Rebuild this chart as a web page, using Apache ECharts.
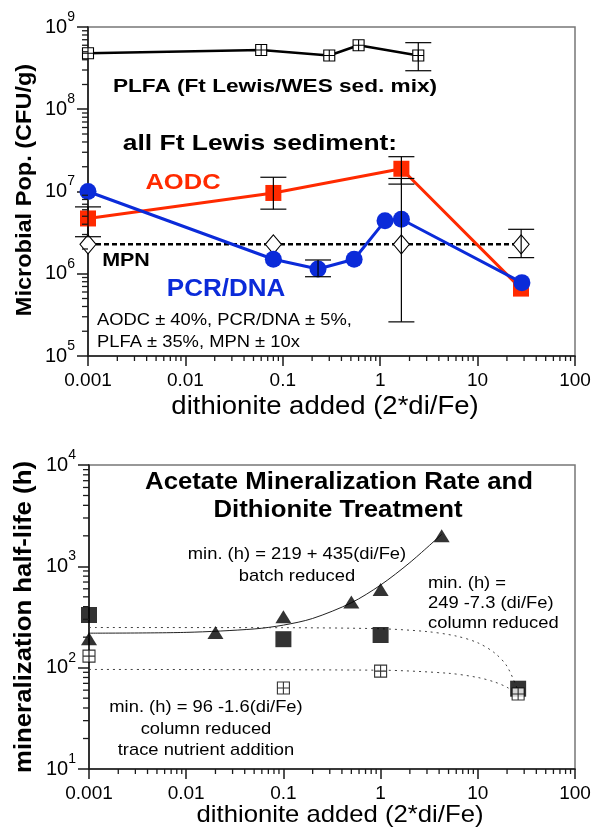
<!DOCTYPE html>
<html>
<head>
<meta charset="utf-8">
<script src="https://cdn.jsdelivr.net/npm/echarts@6/dist/echarts.min.js"></script>
<style>
  html, body { margin: 0; padding: 0; background: #fff; }
  #chart { width: 596px; height: 831px; }
</style>
</head>
<body>
<div id="chart"></div>
<script>
const FONT = '"Liberation Sans", Arial, Helvetica, sans-serif';

// ---- axis tick labels ----
const xTickLabels = ['0.001', '0.01', '0.1', '1', '10', '100'];
const topYExponents = ['5', '6', '7', '8', '9'];
const bottomYExponents = ['1', '2', '3', '4'];

// ---- upper panel: microbial populations (CFU/g) vs dithionite ----
const plfaX = [0.001, 0.06, 0.30, 0.60, 2.46];
const plfaY = [4.8e8, 5.25e8, 4.5e8, 6.0e8, 4.5e8];

const aodcX = [0.001, 0.08, 1.65, 27.9];
const aodcY = [4.7e6, 9.6e6, 1.89e7, 6.6e5];

const pcrX = [0.001, 0.08, 0.23, 0.54, 1.12, 1.65, 28.5];
const pcrY = [1.0e7, 1.5e6, 1.14e6, 1.5e6, 4.4e6, 4.6e6, 7.8e5];

const mpnX = [0.001, 0.08, 1.65, 28];
const mpnY = [2.28e6, 2.28e6, 2.28e6, 2.28e6];

// error bars (low / high)
const aodcErrX = [0.001, 0.08, 1.65];
const aodcErrLo = [2.82e6, 6.1e6, 1.23e7];
const aodcErrHi = [6.5e6, 1.49e7, 2.65e7];
const plfaErrX = [2.46];
const plfaErrLo = [2.94e8];
const plfaErrHi = [6.45e8];
const pcrErrX = [0.23];
const pcrErrLo = [9.2e5];
const pcrErrHi = [1.47e6];
const mpnErrX = [1.65, 28];
const mpnErrLo = [2.6e5, 1.57e6];
const mpnErrHi = [1.44e7, 3.47e6];

// ---- lower panel: mineralization half-life (h) ----
const batchX = [0.001, 0.02, 0.1, 0.5, 1, 4.25];
const batchY = [193, 222, 318, 444, 590, 2000];
const columnX = [0.001, 0.1, 1, 26];
const columnY = [331, 191, 210, 62];
const traceX = [0.001, 0.1, 1, 26];
const traceY = [130, 63, 92.5, 55];

// fitted curves, per the equations printed beside them
const batchFitX = [0.001, 0.01, 0.05, 0.1, 0.2, 0.5, 1, 2, 4.25];
const batchFitY = [219, 223, 241, 263, 306, 437, 654, 1089, 2068];
const columnFitX = [0.001, 0.1, 1, 3, 6, 10, 15, 20, 26];
const columnFitY = [249, 248, 242, 227, 205, 176, 139, 103, 59];
const traceFitX = [0.001, 1, 5, 10, 15, 20, 26];
const traceFitY = [96, 94.4, 88, 80, 72, 64, 54.4];

// ---- helpers ----
const pairs = (xs, ys) => xs.map((x, i) => [x, ys[i]]);
const triples = (xs, lo, hi) => xs.map((x, i) => [x, lo[i], hi[i]]);

const minorSteps = [2, 3, 4, 5, 6, 7, 8, 9];
function minorValues(fromExp, toExp) {
  const out = [];
  for (let e = fromExp; e < toExp; e++) {
    for (const m of minorSteps) out.push(Number((m * Math.pow(10, e)).toPrecision(6)));
  }
  return out;
}

const crossedSquare = 'path://M0 0H10V10H0Z M5 0V10 M0 5H10';
const AXIS_COLOR = '#1a1a1a';

function xAxisFor(gridIndex) {
  return {
    type: 'log', logBase: 10, gridIndex, min: 0.001, max: 100,
    axisLine: { show: true, onZero: false, lineStyle: { color: AXIS_COLOR, width: 1.6 } },
    axisTick: { show: true, inside: false, length: 10, lineStyle: { color: AXIS_COLOR, width: 1.5 } },
    axisLabel: {
      show: true, interval: 0, margin: 15, color: '#000', fontFamily: FONT, fontSize: 19,
      formatter: v => xTickLabels[Math.round(Math.log10(v)) + 3]
    },
    splitLine: { show: false }, minorTick: { show: false }, minorSplitLine: { show: false }
  };
}

function yAxisFor(gridIndex, min, max, exps) {
  const lowExp = Math.round(Math.log10(min));
  return {
    type: 'log', logBase: 10, gridIndex, min, max,
    axisLine: { show: true, onZero: false, lineStyle: { color: AXIS_COLOR, width: 1.6 } },
    axisTick: { show: true, inside: false, length: 11, lineStyle: { color: AXIS_COLOR, width: 1.5 } },
    axisLabel: {
      show: true, interval: 0, margin: 13,
      formatter: v => '{a|10}{b|' + exps[Math.round(Math.log10(v)) - lowExp] + '}',
      rich: {
        a: { fontFamily: FONT, fontSize: 20, lineHeight: 34, color: '#000' },
        b: { fontFamily: FONT, fontSize: 14, lineHeight: 14, padding: [0, 0, 20, 0], color: '#000' }
      }
    },
    splitLine: { show: false }, minorTick: { show: false }, minorSplitLine: { show: false }
  };
}

// short log-decade minor ticks (2..9 in each decade), drawn outside the axis
function minorTickSeries(axisIdx, data, dir) {
  return {
    type: 'custom', coordinateSystem: 'cartesian2d', xAxisIndex: axisIdx, yAxisIndex: axisIdx,
    clip: false, silent: true, z: 10,
    encode: { x: 0, y: 1 },
    data,
    renderItem: (params, api) => {
      const p = api.coord([api.value(0), api.value(1)]);
      const shape = dir === 'x'
        ? { x1: p[0], y1: p[1], x2: p[0], y2: p[1] + 5 }
        : { x1: p[0] - 6, y1: p[1], x2: p[0], y2: p[1] };
      return { type: 'line', shape, style: { stroke: AXIS_COLOR, lineWidth: 1.3 } };
    }
  };
}

function errorBarSeries(axisIdx, data) {
  return {
    type: 'custom', coordinateSystem: 'cartesian2d', xAxisIndex: axisIdx, yAxisIndex: axisIdx,
    clip: false, silent: true, z: 6,
    encode: { x: 0, y: [1, 2] },
    data,
    renderItem: (params, api) => {
      const lo = api.coord([api.value(0), api.value(1)]);
      const hi = api.coord([api.value(0), api.value(2)]);
      const w = 13;
      const st = { stroke: '#000', lineWidth: 1.2 };
      return {
        type: 'group', children: [
          { type: 'line', shape: { x1: lo[0], y1: lo[1], x2: hi[0], y2: hi[1] }, style: st },
          { type: 'line', shape: { x1: lo[0] - w, y1: lo[1], x2: lo[0] + w, y2: lo[1] }, style: st },
          { type: 'line', shape: { x1: hi[0] - w, y1: hi[1], x2: hi[0] + w, y2: hi[1] }, style: st }
        ]
      };
    }
  };
}

function txt(x, y, text, o) {
  return {
    type: 'text', x, y, scaleX: o.sx || 1, rotation: o.rot || 0, z: 100, silent: true,
    style: {
      text, fill: o.color || '#000', fontFamily: FONT, fontSize: o.size,
      fontWeight: o.bold ? 'bold' : 'normal', align: o.align || 'center', verticalAlign: 'middle'
    }
  };
}

const RED = '#ff2a00';
const BLUE = '#0b2bd9';

const option = {
  animation: false,
  backgroundColor: '#fff',
  grid: [
    { left: 88, top: 27, width: 487, height: 329, show: true, borderColor: '#777', borderWidth: 1.5, outerBoundsMode: 'none' },
    { left: 89, top: 465, width: 486, height: 304, show: true, borderColor: '#777', borderWidth: 1.5, outerBoundsMode: 'none' }
  ],
  xAxis: [xAxisFor(0), xAxisFor(1)],
  yAxis: [yAxisFor(0, 1e5, 1e9, topYExponents), yAxisFor(1, 1e1, 1e4, bottomYExponents)],
  series: [
    // minor ticks
    minorTickSeries(0, minorValues(-3, 2).map(v => [v, 1e5]), 'x'),
    minorTickSeries(0, minorValues(5, 9).map(v => [0.001, v]), 'y'),
    minorTickSeries(1, minorValues(-3, 2).map(v => [v, 1e1]), 'x'),
    minorTickSeries(1, minorValues(1, 4).map(v => [0.001, v]), 'y'),

    // upper panel
    {
      type: 'line', name: 'MPN', xAxisIndex: 0, yAxisIndex: 0, data: pairs(mpnX, mpnY),
      symbol: 'diamond', symbolSize: [16, 19], showAllSymbol: true, z: 3,
      lineStyle: { color: '#000', width: 2.5, type: [5, 3] },
      itemStyle: { color: '#fff', borderColor: '#000', borderWidth: 1.1 }
    },
    {
      type: 'line', name: 'PLFA', xAxisIndex: 0, yAxisIndex: 0, data: pairs(plfaX, plfaY),
      symbol: crossedSquare, symbolSize: 11, showAllSymbol: true, z: 4,
      lineStyle: { color: '#000', width: 2.5 },
      itemStyle: { color: '#fff', borderColor: '#000', borderWidth: 1.1 }
    },
    {
      type: 'line', name: 'AODC', xAxisIndex: 0, yAxisIndex: 0, data: pairs(aodcX, aodcY),
      symbol: 'rect', symbolSize: 16, showAllSymbol: true, z: 4,
      lineStyle: { color: RED, width: 3 },
      itemStyle: { color: RED }
    },
    {
      type: 'line', name: 'PCR/DNA', xAxisIndex: 0, yAxisIndex: 0, data: pairs(pcrX, pcrY),
      symbol: 'circle', symbolSize: 17, showAllSymbol: true, z: 5,
      lineStyle: { color: BLUE, width: 3 },
      itemStyle: { color: BLUE }
    },
    errorBarSeries(0, [].concat(
      triples(aodcErrX, aodcErrLo, aodcErrHi),
      triples(plfaErrX, plfaErrLo, plfaErrHi),
      triples(pcrErrX, pcrErrLo, pcrErrHi),
      triples(mpnErrX, mpnErrLo, mpnErrHi)
    )),

    // lower panel: fitted curves
    {
      type: 'line', xAxisIndex: 1, yAxisIndex: 1, data: pairs(batchFitX, batchFitY),
      symbol: 'none', smooth: 0.3, z: 2, lineStyle: { color: '#222', width: 1 }
    },
    {
      type: 'line', xAxisIndex: 1, yAxisIndex: 1, data: pairs(columnFitX, columnFitY),
      symbol: 'none', smooth: 0.3, z: 2, lineStyle: { color: '#444', width: 1, type: [2, 4] }
    },
    {
      type: 'line', xAxisIndex: 1, yAxisIndex: 1, data: pairs(traceFitX, traceFitY),
      symbol: 'none', smooth: 0.3, z: 2, lineStyle: { color: '#444', width: 1, type: [2, 4] }
    },
    // lower panel: measurements
    {
      type: 'scatter', name: 'batch reduced', xAxisIndex: 1, yAxisIndex: 1, data: pairs(batchX, batchY),
      symbol: 'triangle', symbolSize: [16, 13], z: 4, itemStyle: { color: '#000' }
    },
    {
      type: 'scatter', name: 'column reduced', xAxisIndex: 1, yAxisIndex: 1, data: pairs(columnX, columnY),
      symbol: 'rect', symbolSize: 16, z: 4, itemStyle: { color: '#000' }
    },
    {
      type: 'scatter', name: 'trace nutrient addition', xAxisIndex: 1, yAxisIndex: 1, data: pairs(traceX, traceY),
      symbol: crossedSquare, symbolSize: 12, z: 5,
      itemStyle: { color: '#fff', borderColor: '#000', borderWidth: 1.1 }
    }
  ],
  graphic: [
    // upper panel texts
    txt(25, 190, 'Microbial Pop. (CFU/g)', { size: 22, bold: true, rot: Math.PI / 2, sx: 1.07 }),
    txt(325, 407, 'dithionite added (2*di/Fe)', { size: 25, sx: 1.1 }),
    txt(275, 87, 'PLFA (Ft Lewis/WES sed. mix)', { size: 19, bold: true, sx: 1.19 }),
    txt(260, 144, 'all Ft Lewis sediment:', { size: 22, bold: true, sx: 1.2 }),
    txt(183, 183, 'AODC', { size: 22, bold: true, sx: 1.16, color: RED }),
    txt(126, 261, 'MPN', { size: 19, bold: true, sx: 1.13 }),
    txt(226, 290, 'PCR/DNA', { size: 23, bold: true, sx: 1.13, color: BLUE }),
    txt(97, 320, 'AODC ± 40%, PCR/DNA ± 5%,', { size: 17, sx: 1.08, align: 'left' }),
    txt(97, 342, 'PLFA ± 35%, MPN ± 10x', { size: 17, sx: 1.08, align: 'left' }),

    // lower panel texts
    txt(25, 617, 'mineralization half-life (h)', { size: 23, bold: true, rot: Math.PI / 2, sx: 1.12 }),
    txt(340, 815, 'dithionite added (2*di/Fe)', { size: 24, sx: 1.07 }),
    txt(339, 483, 'Acetate Mineralization Rate and', { size: 23, bold: true, sx: 1.12 }),
    txt(338, 511, 'Dithionite Treatment', { size: 23, bold: true, sx: 1.12 }),
    txt(297, 554, 'min. (h) = 219 + 435(di/Fe)', { size: 17, sx: 1.08 }),
    txt(297, 576, 'batch reduced', { size: 17, sx: 1.08 }),
    txt(428, 583, 'min. (h) =', { size: 17, sx: 1.08, align: 'left' }),
    txt(428, 603, '249 -7.3 (di/Fe)', { size: 17, sx: 1.08, align: 'left' }),
    txt(428, 623, 'column reduced', { size: 17, sx: 1.08, align: 'left' }),
    txt(206, 707, 'min. (h) = 96 -1.6(di/Fe)', { size: 17, sx: 1.08 }),
    txt(206, 729, 'column reduced', { size: 17, sx: 1.08 }),
    txt(206, 750, 'trace nutrient addition', { size: 17, sx: 1.08 })
  ]
};

const chart = echarts.init(document.getElementById('chart'), null, { renderer: 'canvas' });
chart.setOption(option);
</script>
</body>
</html>
